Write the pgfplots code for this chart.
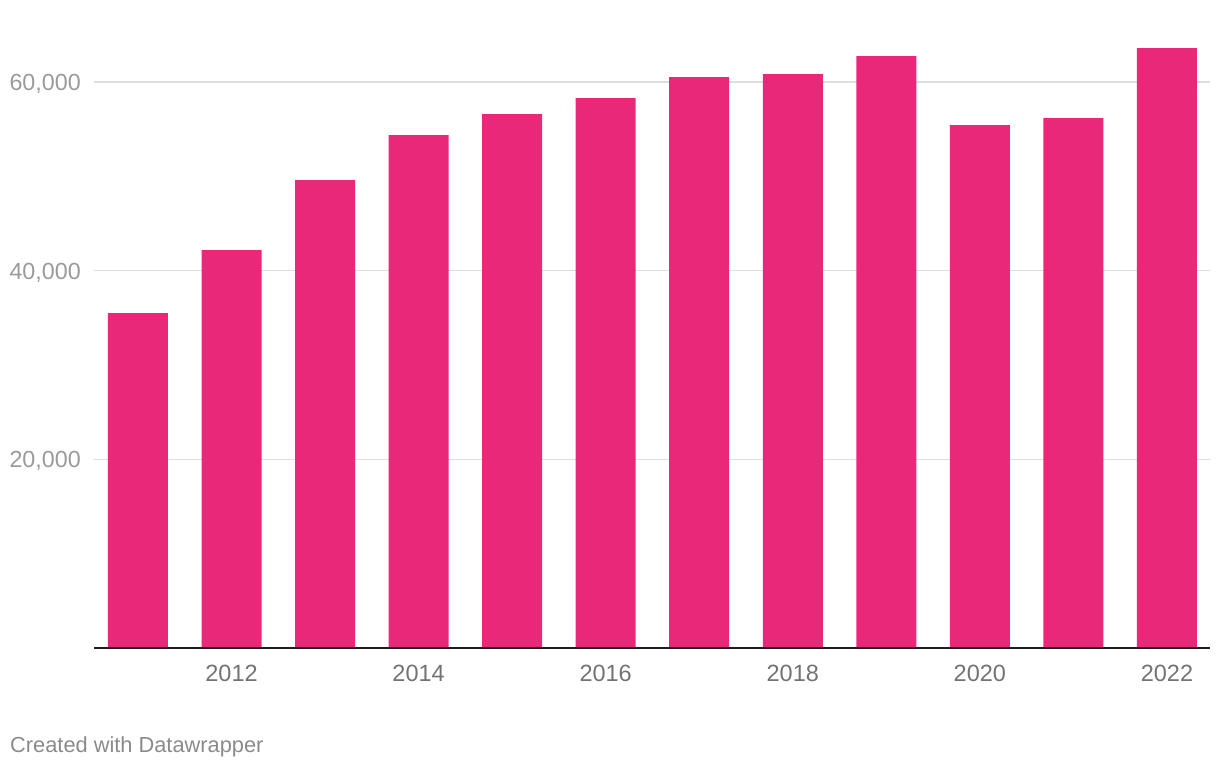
\documentclass[border=0pt]{standalone}
\usepackage{pgfplots}
\pgfplotsset{compat=1.18}
\usepackage{fontspec}
\setmainfont{Liberation Sans}
\definecolor{barpink}{HTML}{E9287A}
\definecolor{ylab}{HTML}{9A9A9A}
\definecolor{xlab}{HTML}{737373}
\definecolor{foot}{HTML}{8A8A8A}
\definecolor{gridc}{HTML}{DEDEDE}
\begin{document}
\begin{tikzpicture}[x=1pt,y=1pt]
\path[use as bounding box] (0,0) rectangle (1220,770);
\begin{axis}[
  at={(94pt,122pt)}, anchor=south west,
  scale only axis, width=1116pt, height=608pt,
  xmin=2010.53, xmax=2022.46,
  ymin=0, ymax=64450,
  ybar, bar width=60pt,
  axis line style={draw=none},
  major tick length=0pt,
  xtick={2012,2014,...,2022},
  xticklabel style={/pgf/number format/1000 sep={}, anchor=north, inner sep=0pt, yshift=-17pt, font=\fontsize{23.5}{28}\selectfont, text=xlab},
  ytick={20000,40000,60000},
  yticklabel style={/pgf/number format/1000 sep={,}, anchor=east, inner sep=0pt, xshift=-13pt, yshift=-2pt, font=\fontsize{23.3}{28}\selectfont, text=ylab},
  /pgf/number format/assume math mode=true,
  scaled y ticks=false,
  ymajorgrids, grid style={color=gridc, line width=1.6pt},
  clip=false,
]
\addplot[fill=barpink, draw=none] coordinates {
(2011,35500) (2012,42180) (2013,49600) (2014,54370) (2015,56600) (2016,58290)
(2017,60520) (2018,60840) (2019,62740) (2020,55430) (2021,56170) (2022,63590)
};
\draw[color=black!88, line width=2pt] (rel axis cs:0,0) -- (rel axis cs:1,0);
\end{axis}
\node[anchor=west, inner sep=0pt, text=foot, font=\fontsize{21.8}{26}\selectfont] at (10,23) {Created with Datawrapper};
\end{tikzpicture}
\end{document}
